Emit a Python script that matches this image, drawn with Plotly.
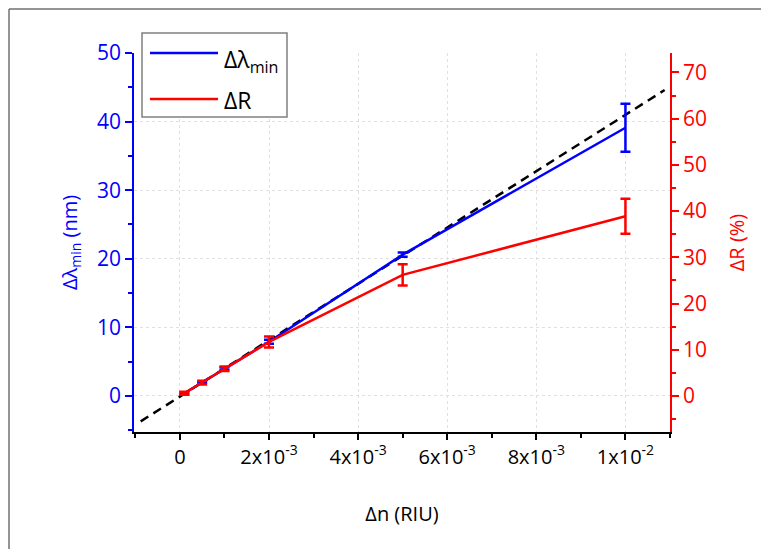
import plotly.graph_objects as go

# ---- data ----
dn = [0.0001, 0.0005, 0.001, 0.002, 0.005, 0.01]
dlambda = [0.4, 2.0, 4.0, 7.9, 20.6, 39.1]
dlambda_err = [0.1, 0.1, 0.2, 0.3, 0.3, 3.5]
dR = [0.6, 2.9, 5.9, 11.7, 26.2, 38.9]
dR_err = [0.3, 0.4, 0.5, 1.2, 2.3, 3.8]
fit_x = [-0.00088, 0.01088]
fit_y = [-3.7, 44.6]

x_tickvals = [0, 0.002, 0.004, 0.006, 0.008, 0.01]
x_ticktext = ["0", "2x10<sup>-3</sup>", "4x10<sup>-3</sup>", "6x10<sup>-3</sup>",
              "8x10<sup>-3</sup>", "1x10<sup>-2</sup>"]
y_left_ticks = [0, 10, 20, 30, 40, 50]
y_right_ticks = [0, 10, 20, 30, 40, 50, 60, 70]

BLUE = "#0000ff"
RED = "#ff0000"
FONT = "Open Sans"
GRID = "#e0e0e0"

fig = go.Figure()

fig.add_trace(go.Scatter(
    x=fit_x, y=fit_y, mode="lines",
    line=dict(color="black", width=2.5, dash="9px,6px"),
    showlegend=False, yaxis="y", hoverinfo="skip"))

fig.add_trace(go.Scatter(
    x=dn, y=dlambda, mode="lines", name="Δλ<sub>min</sub>",
    line=dict(color=BLUE, width=2.5),
    error_y=dict(type="data", array=dlambda_err, color=BLUE, thickness=2.5, width=5),
    showlegend=False, yaxis="y"))

fig.add_trace(go.Scatter(
    x=dn, y=dR, mode="lines", name="ΔR",
    line=dict(color=RED, width=2.5),
    error_y=dict(type="data", array=dR_err, color=RED, thickness=2.5, width=5),
    showlegend=False, yaxis="y2"))

# page offset (default body margin) and figure size
OFF = 8
FW, FH = 769 - 2 * OFF, 557 - 2 * OFF
# plot area geometry in screen pixels
L, R, T, B = 134, 670, 53, 432
W, H = R - L, B - T
def px(x):
    return (x - L) / W
def py(y):
    return (B - y) / H

fig.update_layout(
    width=FW, height=FH,
    margin=dict(l=L - OFF, r=FW - (R - OFF), t=T - OFF, b=FH - (B - OFF), autoexpand=False),
    paper_bgcolor="white", plot_bgcolor="white",
    font=dict(family=FONT, size=20, color="black"),
    xaxis=dict(
        range=[-0.00103, 0.011], automargin=False,
        tickvals=x_tickvals, ticktext=x_ticktext,
        ticks="outside", ticklen=6, tickwidth=1.5, tickcolor="black",
        showline=True, linecolor="black", linewidth=1.5,
        showgrid=True, gridcolor=GRID, griddash="dot", gridwidth=1,
        zeroline=False,
        minor=dict(dtick=0.001, tick0=0, ticks="outside", ticklen=4,
                   tickcolor="black", tickwidth=1.5, showgrid=False),
        tickfont=dict(size=20, color="black", family=FONT),
        title=dict(text="Δn (RIU)", font=dict(size=20, color="black", family=FONT),
                   standoff=38),
    ),
    yaxis=dict(
        range=[-5.25, 50], automargin=False,
        tickvals=y_left_ticks,
        ticks="outside", ticklen=7, tickwidth=1.5, tickcolor=BLUE,
        showline=True, linecolor=BLUE, linewidth=1.5,
        showgrid=True, gridcolor=GRID, griddash="dot", gridwidth=1,
        zeroline=False,
        minor=dict(dtick=5, tick0=0, ticks="outside", ticklen=4,
                   tickcolor=BLUE, tickwidth=1.5, showgrid=False),
        tickfont=dict(size=21, color=BLUE, family=FONT),
        title=dict(text="Δλ<sub>min</sub> (nm)", font=dict(size=20, color=BLUE, family=FONT),
                   standoff=14),
    ),
    yaxis2=dict(
        range=[-7.78, 74.2], overlaying="y", side="right", automargin=False,
        tickvals=y_right_ticks,
        ticks="outside", ticklen=7, tickwidth=1.5, tickcolor=RED,
        showline=True, linecolor=RED, linewidth=1.5,
        showgrid=False, zeroline=False,
        minor=dict(dtick=5, tick0=0, ticks="outside", ticklen=4,
                   tickcolor=RED, tickwidth=1.5, showgrid=False),
        tickfont=dict(size=21, color=RED, family=FONT),
        title=dict(text="ΔR (%)", font=dict(size=20, color=RED, family=FONT),
                   standoff=24),
    ),
)

# manual legend
shapes = [
    dict(type="rect", xref="paper", yref="paper",
         x0=px(142), x1=px(287), y0=py(117), y1=py(33),
         line=dict(color="#808080", width=1.5), fillcolor="white", layer="above"),
    dict(type="line", xref="paper", yref="paper",
         x0=px(150), x1=px(218), y0=py(53), y1=py(53),
         line=dict(color=BLUE, width=2.5), layer="above"),
    dict(type="line", xref="paper", yref="paper",
         x0=px(150), x1=px(218), y0=py(99), y1=py(99),
         line=dict(color=RED, width=2.5), layer="above"),
    # outer frame (left and top)
    dict(type="line", xref="paper", yref="paper",
         x0=px(9), x1=px(9), y0=py(9), y1=py(560),
         line=dict(color="#707070", width=1.5)),
    dict(type="line", xref="paper", yref="paper",
         x0=px(9), x1=px(772), y0=py(9), y1=py(9),
         line=dict(color="#707070", width=1.5)),
]
fig.update_layout(shapes=shapes)

fig.add_annotation(xref="paper", yref="paper", x=px(222), y=py(60),
                   text="Δλ<sub>min</sub>", showarrow=False, xanchor="left", yanchor="middle",
                   font=dict(size=23, color="black", family=FONT))
fig.add_annotation(xref="paper", yref="paper", x=px(222), y=py(100),
                   text="ΔR", showarrow=False, xanchor="left", yanchor="middle",
                   font=dict(size=23, color="black", family=FONT))

fig.write_html("out.html")
